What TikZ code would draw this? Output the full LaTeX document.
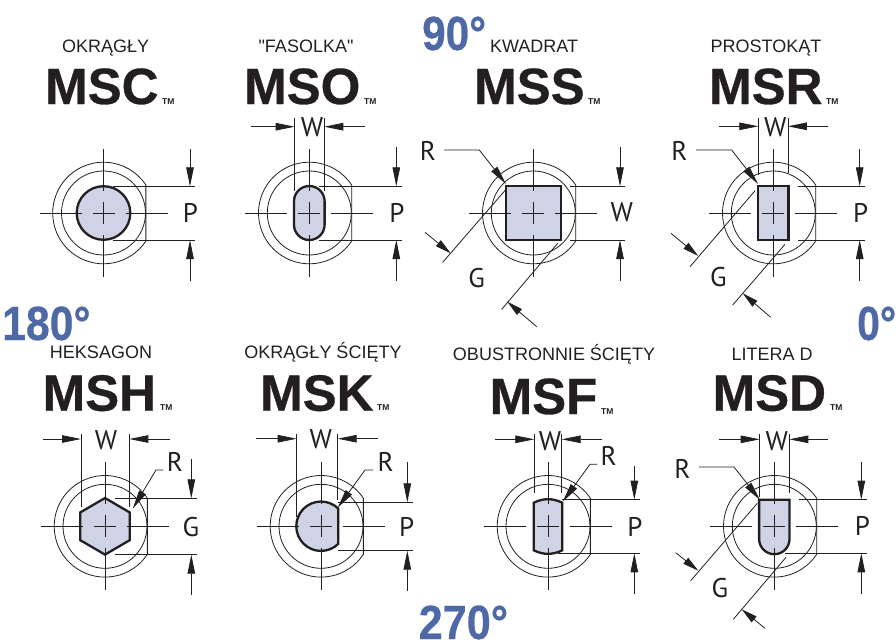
\documentclass[tikz,border=0pt]{standalone}
\usepackage{fontspec}
\usepackage{graphicx}
\usetikzlibrary{arrows.meta}
\setmainfont{Liberation Sans}
\newfontfamily\heavy{Liberation Sans}[BoldFeatures={FakeBold=0.6}]
\newfontfamily\plainfont{Liberation Sans}
\newfontfamily\lblfont{PT Sans}
\definecolor{ink}{HTML}{231F20}
\definecolor{steel}{HTML}{4F69A6}
\definecolor{shapefill}{HTML}{CFD3E6}
\tikzset{
  thin line/.style={draw=ink,line width=0.8pt},
  profile/.style={draw=ink,fill=shapefill,line width=2.3pt,line join=miter},
  dimarrow/.style={thin line,-{Triangle[length=19pt,width=7.5pt]}},
  gaparrow/.style={thin line,-{Triangle[length=16pt,width=7.5pt]}},
  title/.style={inner sep=0pt,anchor=base,text=ink,font=\fontsize{18}{20}\selectfont},
  code/.style={inner sep=0pt,anchor=base west,text=ink,font=\heavy\bfseries\fontsize{51}{54}\selectfont},
  tm/.style={inner sep=0pt,anchor=base west,text=ink,font=\bfseries\fontsize{8.5}{9}\selectfont},
  lab/.style={inner sep=0pt,text=ink,font=\lblfont\fontsize{27}{29}\selectfont},
  deg/.style={inner sep=0pt,anchor=base west,text=steel,font=\heavy\bfseries\fontsize{48}{50}\selectfont},
}
% body outline of the fitting (two circles, one flat)
\newcommand{\FitBody}[2]{
  \begin{scope}[shift={(#1,#2)}]
    \draw[thin line] (33.5:50.8) arc[start angle=33.5,end angle=326.5,radius=50.8] -- cycle;
    \draw[thin line] (0,0) circle[radius=42];
  \end{scope}}
% centre lines
\newcommand{\FitAxes}[2]{
  \begin{scope}[shift={(#1,#2)}]
    \draw[thin line] (-64,0) -- (-22,0) (-11,0) -- (11,0) (22,0) -- (64,0);
    \draw[thin line] (0,-64) -- (0,-22) (0,-11) -- (0,11) (0,22) -- (0,64);
  \end{scope}}
% vertical dimension: x, top start, top tip, bottom tip, bottom start, ext-left top, ext-left bottom, ext-right
\newcommand{\Vdim}[8]{
  \draw[thin line] (#6,#3) -- (#8,#3) (#7,#4) -- (#8,#4);
  \draw[dimarrow] (#1,#2) -- (#1,#3);
  \draw[dimarrow] (#1,#5) -- (#1,#4);}
% width dimension: y, left start, left tip, right start, right tip, ext top, left ext bottom, right ext bottom
\newcommand{\Wdim}[8]{
  \draw[thin line] (#3,#6) -- (#3,#7) (#5,#6) -- (#5,#8);
  \draw[dimarrow] (#2,#1) -- (#3,#1);
  \draw[dimarrow] (#4,#1) -- (#5,#1);}
% radius leader
\newcommand{\Leader}[6]{\draw[dimarrow] (#1,#2) -- (#3,#4) -- (#5,#6);}
\begin{document}
\begin{tikzpicture}[x=1pt,y=-1pt]
\useasboundingbox (0,0) rectangle (896,641);
% degree marks
\node[deg] (d90) at (422,50) {\scalebox{0.88}[1]{90°}};
\node[deg] (d180) at (2,340) {\scalebox{0.89}[1]{180°}};
\node[deg] (d0) at (857,340) {\scalebox{0.85}[1]{0°}};
\node[deg] (d270) at (418.5,639) {\scalebox{0.9}[1]{270°}};
% titles
\node[title] (t1) at (105.7,52) {OKRĄGŁY};
\node[title] (t2) at (306,52) {\plainfont"FASOLKA"};
\node[title] (t3) at (534,52) {KWADRAT};
\node[title] (t4) at (766,52) {PROSTOKĄT};
\node[title] (t5) at (101,358.5) {HEKSAGON};
\node[title] (t6) at (323,358.5) {OKRĄGŁY ŚCIĘTY};
\node[title] (t7) at (554,360) {OBUSTRONNIE ŚCIĘTY};
\node[title] (t8) at (772,360) {LITERA D};
% codes
\node[code] (c1) at (45,104) {MSC};
\node[code] (c2) at (244,104) {MSO};
\node[code] (c3) at (474,104) {MSS};
\node[code] (c4) at (709,104) {MSR};
\node[code] (c5) at (42.5,410.7) {MSH};
\node[code] (c6) at (260,410.7) {MSK};
\node[code] (c7) at (489.5,414) {MSF};
\node[code] (c8) at (712.5,410.7) {MSD};
\node[tm] (m1) at (162,104) {TM};
\node[tm] (m2) at (364,104) {TM};
\node[tm] (m3) at (588,104) {TM};
\node[tm] (m4) at (826,104) {TM};
\node[tm] (m5) at (160,410.7) {TM};
\node[tm] (m6) at (377,410.7) {TM};
\node[tm] (m7) at (601,414) {TM};
\node[tm] (m8) at (830,410.7) {TM};

% MSC
\FitBody{103.5}{213}
\draw[profile] (103.5,213) circle[radius=26.8];
\FitAxes{103.5}{213}
\Vdim{190}{149}{186.3}{240}{280.7}{113}{113}{195}
\node[lab] (p1) at (190.5,213) {P};

% MSO
\FitBody{309.3}{213}
\draw[profile] (294,201.3) arc[start angle=180,end angle=360,x radius=15.3,y radius=15.3] -- (324.6,224.7) arc[start angle=0,end angle=180,radius=15.3] -- cycle;
\FitAxes{309.3}{213}
\Vdim{396.3}{147.3}{186.3}{240}{280.7}{319}{319}{401.7}
\Wdim{126.7}{251}{294.7}{365}{324.3}{118}{191}{191}
\node[lab] (p2) at (397,213) {P};
\node[lab] (w2) at (312,127) {W};

% MSS
\FitBody{533.3}{213}
\draw[profile] (506,186) rectangle (560.7,240);
\FitAxes{533.3}{213}
\Vdim{620}{147.3}{186.3}{240}{280.7}{570}{570}{625}
\node[lab] (w3) at (621.7,212) {W};
\node[lab] (r3) at (428,151) {R};
\Leader{444}{150}{479.3}{150}{506}{184}
\draw[thin line] (442.7,262.3) -- (506,189.3) (501.7,309.3) -- (557.7,243.3);
\draw[gaparrow] (425,232.3) -- (450.7,253.3);
\draw[gaparrow] (536.7,326.7) -- (507.3,301.7);
\node[lab] (g3) at (476.7,277.7) {G};

% MSR
\FitBody{773.3}{213}
\draw[profile] (758.2,186) rectangle (788.4,240);
\FitAxes{773.3}{213}
\Vdim{859.7}{149}{186.3}{240}{280.7}{797.7}{797.7}{865}
\Wdim{126.3}{719}{758.3}{828.3}{787.9}{118}{175}{173}
\node[lab] (p4) at (860.7,213) {P};
\node[lab] (w4) at (775.3,126.7) {W};
\node[lab] (r4) at (679.3,151) {R};
\Leader{696}{150}{731.7}{150}{758}{184}
\draw[thin line] (690,266.7) -- (755,190.7) (732.7,305) -- (785,244.3);
\draw[gaparrow] (671,233.3) -- (698.3,256);
\draw[gaparrow] (770.7,317.3) -- (742.7,293.3);
\node[lab] (g4) at (718.3,276.7) {G};

% MSH
\FitBody{105}{526.3}
\draw[profile] (105,498) -- (129.7,512.4) -- (129.7,540.2) -- (105,554.6) -- (80.3,540.2) -- (80.3,512.4) -- cycle;
\FitAxes{105}{526.3}
\Vdim{191.3}{459.3}{498.3}{554.7}{595}{115}{115}{196.7}
\Wdim{439}{42.7}{81}{170}{129.3}{434}{506.7}{506.7}
\node[lab] (w5) at (106,440) {W};
\node[lab] (r5) at (175,461.7) {R};
\node[lab] (g5) at (191,527.3) {G};
\Leader{163.3}{470}{156}{470}{132.7}{508.7}

% MSK
\FitBody{321}{526.3}
\draw[profile] (338.3,508.6) arc[start angle=-45.5,end angle=-314.5,radius=24.7] -- cycle;
\FitAxes{321}{526.3}
\Vdim{407.3}{461.7}{502.3}{550.7}{590.7}{337.7}{337.7}{412.7}
\Wdim{438.7}{256}{296.7}{378.3}{337.7}{434}{516.7}{500}
\node[lab] (w6) at (320.7,439) {W};
\node[lab] (r6) at (385.7,461.7) {R};
\node[lab] (p6) at (406.7,527.3) {P};
\Leader{373.3}{470}{365}{470}{337.7}{507.7}

% MSF
\FitBody{548}{526.3}
\draw[profile] (533.8,502.7) .. controls (543,498) and (553,498) .. (562.2,502.7) -- (562.2,550.3) .. controls (553,555) and (543,555) .. (533.8,550.3) -- cycle;
\FitAxes{548}{526.3}
\Vdim{634.3}{465.7}{499.7}{553.3}{594}{561.7}{558}{640}
\Wdim{439.3}{495}{534.3}{602.3}{561.7}{434}{493.3}{493.3}
\node[lab] (w7) at (550,440.7) {W};
\node[lab] (r7) at (608.7,455.7) {R};
\node[lab] (p7) at (635,526.7) {P};
\Leader{597.3}{464.3}{590}{464.3}{562.7}{501.7}

% MSD
\FitBody{774.3}{526.3}
\draw[profile] (759.1,499.7) -- (789.5,499.7) -- (789.5,539) arc[start angle=0,end angle=180,radius=15.2] -- cycle;
\FitAxes{774.3}{526.3}
\Vdim{861.3}{462.3}{499.7}{553.3}{594}{799}{785}{866.7}
\Wdim{439.3}{719}{759.7}{828}{789.3}{434}{496.7}{493.3}
\node[lab] (w8) at (776.7,440.7) {W};
\node[lab] (r8) at (682.3,468.7) {R};
\node[lab] (p8) at (862.3,526) {P};
\node[lab] (g8) at (720,588.3) {G};
\Leader{699}{467}{734}{467}{760}{500}
\draw[thin line] (690.7,580.7) -- (757.3,503.3) (733.3,619.3) -- (786,557.3);
\draw[gaparrow] (675.7,552.7) -- (698.3,570.7);
\draw[gaparrow] (765,628.3) -- (741.7,609.3);
\end{tikzpicture}
\end{document}
